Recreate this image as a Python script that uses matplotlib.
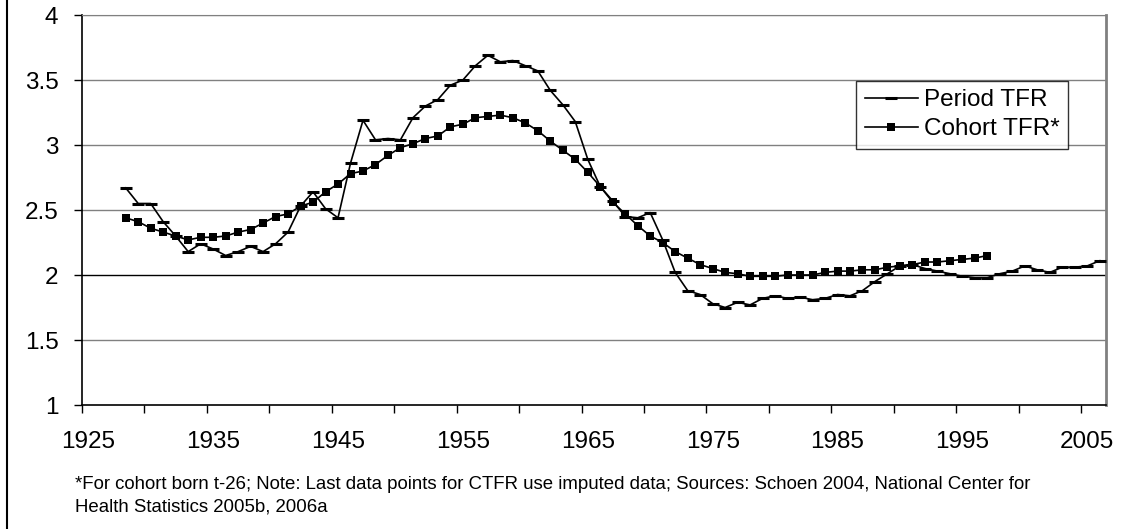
import numpy as np
import matplotlib
matplotlib.use("Agg")
import matplotlib.pyplot as plt
from matplotlib.lines import Line2D
from matplotlib.ticker import FixedLocator, FuncFormatter

# ===========================
# DATA
# ===========================

period_years = list(range(1928, 2007))
period_tfr = [
    2.67, 2.55, 2.55, 2.41, 2.30, 2.18, 2.24, 2.20, 2.15, 2.18,   # 1928-1937
    2.22, 2.18, 2.24, 2.33, 2.53, 2.64, 2.51, 2.44, 2.86, 3.19,   # 1938-1947
    3.04, 3.05, 3.04, 3.21, 3.30, 3.35, 3.46, 3.50, 3.61, 3.69,   # 1948-1957
    3.64, 3.65, 3.61, 3.57, 3.42, 3.31, 3.18, 2.89, 2.68, 2.57,   # 1958-1967
    2.45, 2.44, 2.48, 2.27, 2.02, 1.88, 1.85, 1.78, 1.75, 1.79,   # 1968-1977
    1.77, 1.82, 1.84, 1.82, 1.83, 1.81, 1.82, 1.85, 1.84, 1.88,   # 1978-1987
    1.95, 2.01, 2.07, 2.08, 2.05, 2.03, 2.01, 1.99, 1.98, 1.98,   # 1988-1997
    2.01, 2.03, 2.07, 2.04, 2.02, 2.06, 2.06, 2.07, 2.11,         # 1998-2006
]

cohort_years = list(range(1928, 1998))
cohort_tfr = [
    2.44, 2.41, 2.36, 2.33, 2.30, 2.27, 2.29, 2.29, 2.30, 2.33,   # 1928-1937
    2.35, 2.40, 2.45, 2.47, 2.53, 2.56, 2.64, 2.70, 2.78, 2.80,   # 1938-1947
    2.85, 2.92, 2.98, 3.01, 3.05, 3.07, 3.14, 3.16, 3.21, 3.22,   # 1948-1957
    3.23, 3.21, 3.17, 3.11, 3.03, 2.96, 2.89, 2.79, 2.68, 2.56,   # 1958-1967
    2.47, 2.38, 2.30, 2.25, 2.18, 2.13, 2.08, 2.05, 2.02, 2.01,   # 1968-1977
    1.99, 1.99, 1.99, 2.00, 2.00, 2.00, 2.02, 2.03, 2.03, 2.04,   # 1978-1987
    2.04, 2.06, 2.07, 2.08, 2.10, 2.10, 2.11, 2.12, 2.13, 2.15,   # 1988-1997
]

year_labels = ["1925", "1935", "1945", "1955", "1965", "1975", "1985", "1995", "2005"]
y_ticks = [1, 1.5, 2, 2.5, 3, 3.5, 4]

footnote = ("*For cohort born t-26; Note: Last data points for CTFR use imputed data; "
            "Sources: Schoen 2004, National Center for\nHealth Statistics 2005b, 2006a")

# ===========================
# FIGURE
# ===========================

plt.rcParams["font.family"] = ["Liberation Sans", "DejaVu Sans"]

fig = plt.figure(figsize=(11.36, 5.29), dpi=100)
ax = fig.add_axes([0.0722, 0.2344, 0.9014, 0.7372])

# category style axis: each year sits in the middle of its slot
px = np.array(period_years) + 0.5
cx = np.array(cohort_years) + 0.5

ax.plot(px, period_tfr, color="black", lw=1.2, marker="_",
        markersize=8, markeredgewidth=2.2, label="Period TFR", zorder=3)
ax.plot(cx, cohort_tfr, color="black", lw=1.2, marker="s",
        markersize=6.2, markeredgewidth=0, label="Cohort TFR*", zorder=4)

ax.set_xlim(1925, 2007)
ax.set_ylim(1, 4)

# gridlines
for v in y_ticks[1:]:
    ax.axhline(v, color="black" if v == 2 else "#808080", lw=1.0, zorder=1)

# x ticks: marks on 5 year boundaries, labels centred on category
ax.xaxis.set_major_locator(FixedLocator([int(s) + 0.5 for s in year_labels]))
ax.set_xticklabels(year_labels)
ax.xaxis.set_minor_locator(FixedLocator(list(range(1925, 2006, 5))))
ax.tick_params(axis="x", which="major", length=0, pad=19, labelsize=17.5)
ax.tick_params(axis="x", which="minor", length=6, width=1, direction="out")

ax.set_yticks(y_ticks)
ax.yaxis.set_major_formatter(FuncFormatter(lambda v, p: f"{v:g}"))
ax.tick_params(axis="y", length=6, width=1, pad=11, labelsize=17.5)

for side in ["left", "bottom"]:
    ax.spines[side].set_color("black")
    ax.spines[side].set_linewidth(1.2)
ax.spines["top"].set_color("#808080")
ax.spines["right"].set_color("#808080")
ax.spines["right"].set_linewidth(2)

leg = ax.legend(loc="upper left", bbox_to_anchor=(0.756, 0.832), fontsize=17.5,
                frameon=True, fancybox=False, edgecolor="black",
                handlelength=2.2, handletextpad=0.25, borderpad=0.35,
                labelspacing=0.3, borderaxespad=0)
leg.get_frame().set_linewidth(1.0)

fig.text(0.066, 0.100, footnote, fontsize=13.4, ha="left", va="top",
         linespacing=1.45)

# chart frame on the left
fig.add_artist(Line2D([0.0062, 0.0062], [0, 1], color="black", lw=1.5,
                      transform=fig.transFigure))

fig.savefig("out.png", dpi=100, facecolor="white")
